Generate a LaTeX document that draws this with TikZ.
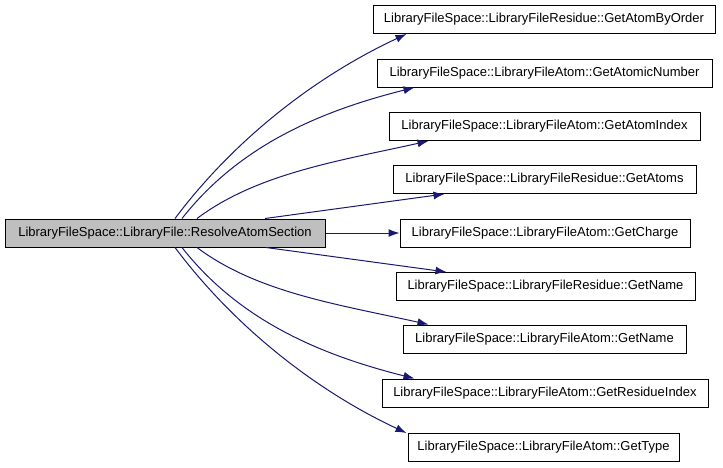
\documentclass[tikz,border=0pt]{standalone}
\usepackage{fontspec}
\setmainfont{Liberation Sans}
\usetikzlibrary{arrows.meta}
\definecolor{edgeblue}{HTML}{191970}
\definecolor{maingrey}{HTML}{BFBFBF}
\begin{document}
\begin{tikzpicture}[x=1pt,y=-1pt,
  fbox/.style={draw=black,line width=1pt,minimum height=28pt,inner sep=0pt,
    font=\fontsize{13}{15}\selectfont,anchor=center},
  edge/.style={draw=edgeblue,line width=1pt,-{Latex[length=11pt,width=8pt]}}]
\useasboundingbox (0,0) rectangle (723,467);
\node[fbox,fill=maingrey,minimum width=320pt] (main) at (165,233) {LibraryFileSpace::LibraryFile::ResolveAtomSection};
\node[fbox,minimum width=342pt] (t1) at (544,19.5) {LibraryFileSpace::LibraryFileResidue::GetAtomByOrder};
\node[fbox,minimum width=335pt] (t2) at (544.5,73) {LibraryFileSpace::LibraryFileAtom::GetAtomicNumber};
\node[fbox,minimum width=311pt] (t3) at (544.5,126.5) {LibraryFileSpace::LibraryFileAtom::GetAtomIndex};
\node[fbox,minimum width=303pt] (t4) at (544.5,179.5) {LibraryFileSpace::LibraryFileResidue::GetAtoms};
\node[fbox,minimum width=290pt] (t5) at (545,233) {LibraryFileSpace::LibraryFileAtom::GetCharge};
\node[fbox,minimum width=299pt] (t6) at (545.5,286.5) {LibraryFileSpace::LibraryFileResidue::GetName};
\node[fbox,minimum width=283pt] (t7) at (544.5,339) {LibraryFileSpace::LibraryFileAtom::GetName};
\node[fbox,minimum width=326pt] (t8) at (545,393) {LibraryFileSpace::LibraryFileAtom::GetResidueIndex};
\node[fbox,minimum width=271pt] (t9) at (543.5,447.5) {LibraryFileSpace::LibraryFileAtom::GetType};
\draw[edge] ([xshift=10pt]main.north) .. controls +(60,-80) and +(-90,42) .. ([xshift=34pt]t1.south west);
\draw[edge] ([xshift=17pt]main.north) .. controls +(55,-70) and +(-100,25) .. ([xshift=38pt]t2.south west);
\draw[edge] ([xshift=32pt]main.north) .. controls +(60,-45) and +(-90,20) .. ([xshift=40pt]t3.south west);
\draw[edge] ([xshift=100pt]main.north) -- ([xshift=52pt]t4.south west);
\draw[edge] (main.east) -- (t5.west);
\draw[edge] ([xshift=101pt]main.south) -- ([xshift=51pt]t6.north west);
\draw[edge] ([xshift=32pt]main.south) .. controls +(60,45) and +(-90,-20) .. ([xshift=26pt]t7.north west);
\draw[edge] ([xshift=17pt]main.south) .. controls +(55,70) and +(-100,-25) .. ([xshift=33pt]t8.north west);
\draw[edge] ([xshift=10pt]main.south) .. controls +(60,80) and +(-90,-42) .. ([xshift=-1pt]t9.north west);
\end{tikzpicture}
\end{document}
